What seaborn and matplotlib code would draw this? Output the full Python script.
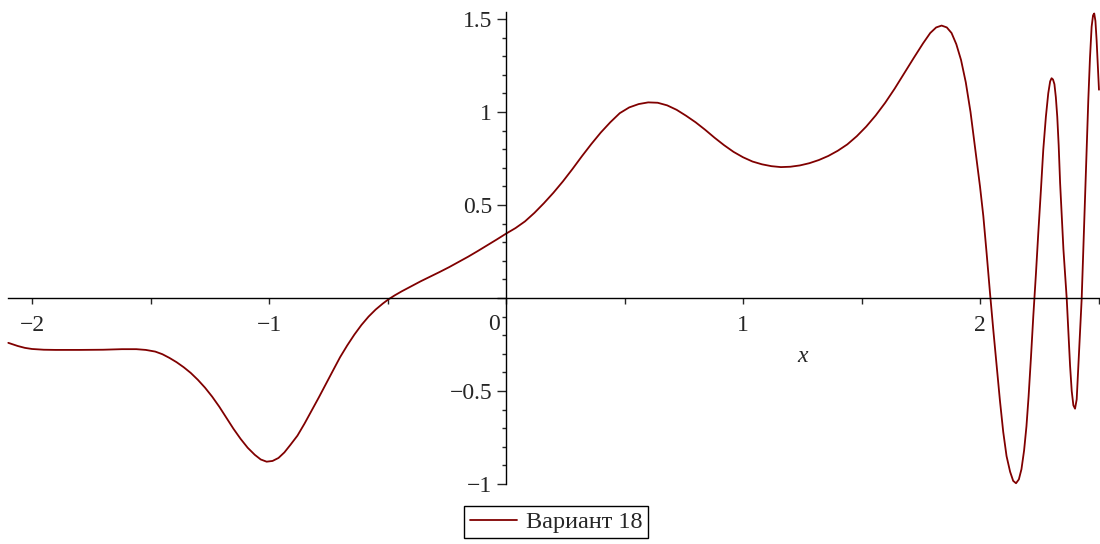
import matplotlib
matplotlib.use("Agg")
import matplotlib.pyplot as plt
import seaborn as sns
import pandas as pd
from matplotlib.ticker import FixedLocator, MultipleLocator

# Sampled curve values (x, y)
x_vals = [-2.100, -2.060, -2.030, -2.000, -1.950, -1.900, -1.800, -1.700, -1.620, -1.560,
          -1.520, -1.480, -1.450, -1.420, -1.390, -1.360, -1.330, -1.300, -1.270, -1.240,
          -1.210, -1.180, -1.150, -1.120, -1.090, -1.060, -1.035, -1.010, -0.985, -0.960,
          -0.935, -0.910, -0.880, -0.850, -0.820, -0.790, -0.760, -0.730, -0.700, -0.670,
          -0.640, -0.610, -0.580, -0.550, -0.520, -0.497, -0.470, -0.440, -0.400, -0.360,
          -0.320, -0.280, -0.240, -0.200, -0.160, -0.120, -0.080, -0.040, 0.000, 0.040,
          0.080, 0.120, 0.160, 0.200, 0.240, 0.280, 0.320, 0.360, 0.400, 0.440,
          0.480, 0.520, 0.560, 0.600, 0.640, 0.680, 0.720, 0.760, 0.800, 0.840,
          0.880, 0.920, 0.960, 1.000, 1.040, 1.080, 1.120, 1.160, 1.200, 1.240,
          1.280, 1.320, 1.360, 1.400, 1.440, 1.480, 1.520, 1.560, 1.600, 1.640,
          1.680, 1.720, 1.760, 1.790, 1.815, 1.838, 1.860, 1.880, 1.900, 1.920,
          1.940, 1.960, 1.980, 2.000, 2.014, 2.028, 2.042, 2.056, 2.070, 2.084,
          2.098, 2.112, 2.127, 2.140, 2.152, 2.164, 2.175, 2.186, 2.196, 2.205,
          2.215, 2.225, 2.236, 2.246, 2.257, 2.267, 2.278, 2.288, 2.296, 2.302,
          2.308, 2.314, 2.320, 2.326, 2.332, 2.338, 2.345, 2.352, 2.359, 2.366,
          2.373, 2.380, 2.387, 2.394, 2.401, 2.408, 2.415, 2.422, 2.429, 2.436,
          2.443, 2.450, 2.457, 2.464, 2.471, 2.477, 2.482, 2.487, 2.492, 2.497,
          2.502]
y_vals = [-0.241, -0.258, -0.268, -0.274, -0.278, -0.279, -0.279, -0.278, -0.275, -0.275,
          -0.279, -0.288, -0.302, -0.322, -0.345, -0.372, -0.403, -0.440, -0.482, -0.530,
          -0.584, -0.643, -0.703, -0.757, -0.805, -0.843, -0.868, -0.880, -0.876, -0.860,
          -0.830, -0.790, -0.740, -0.675, -0.605, -0.535, -0.462, -0.390, -0.318, -0.255,
          -0.197, -0.145, -0.100, -0.062, -0.030, -0.008, 0.014, 0.036, 0.063, 0.090,
          0.115, 0.140, 0.166, 0.194, 0.222, 0.252, 0.283, 0.314, 0.346, 0.376,
          0.412, 0.458, 0.510, 0.566, 0.627, 0.693, 0.762, 0.828, 0.890, 0.945,
          0.994, 1.025, 1.043, 1.052, 1.050, 1.036, 1.012, 0.980, 0.945, 0.905,
          0.862, 0.822, 0.786, 0.757, 0.734, 0.719, 0.709, 0.704, 0.706, 0.713,
          0.725, 0.742, 0.764, 0.792, 0.826, 0.870, 0.922, 0.982, 1.050, 1.126,
          1.208, 1.290, 1.370, 1.425, 1.455, 1.465, 1.455, 1.425, 1.365, 1.280,
          1.160, 1.000, 0.800, 0.600, 0.441, 0.240, 0.030, -0.170, -0.363, -0.550,
          -0.720, -0.850, -0.934, -0.983, -0.996, -0.975, -0.920, -0.820, -0.690, -0.530,
          -0.320, -0.095, 0.130, 0.351, 0.580, 0.798, 0.975, 1.101, 1.165, 1.182,
          1.175, 1.150, 1.080, 0.975, 0.820, 0.619, 0.440, 0.262, 0.125, -0.005,
          -0.180, -0.363, -0.500, -0.577, -0.595, -0.545, -0.363, -0.180, -0.005, 0.260,
          0.530, 0.800, 1.066, 1.290, 1.459, 1.520, 1.530, 1.490, 1.387, 1.250,
          1.120]

series_label = "Вариант 18"
x_ticks = [-2, -1, 0, 1, 2]
x_tick_labels = ["\u22122", "\u22121", "", "1", "2"]
y_ticks = [-1, -0.5, 0, 0.5, 1, 1.5]
y_tick_labels = ["\u22121", "\u22120.5", "", "0.5", "1", "1.5"]

FS = 17

sns.set_style("ticks")
plt.rcParams["font.family"] = ["Liberation Serif", "DejaVu Serif"]
plt.rcParams["font.size"] = FS

W, H = 1100, 544
fig = plt.figure(figsize=(W / 100, H / 100), dpi=100)
ax = fig.add_axes([8.3 / W, 1 - 484 / H, (1098.5 - 8.3) / W, (484 - 12) / H])

df = pd.DataFrame({"x": x_vals, "y": y_vals})
sns.lineplot(data=df, x="x", y="y", ax=ax, color="#800000", linewidth=1.3,
             label=series_label, estimator=None, sort=False)
for ln in ax.lines:
    ln.set_clip_on(False)
    ln.set_solid_joinstyle("round")

ax.set_xlim(-2.1, 2.5)
ax.set_ylim(-1.0, 1.538)

# Axes crossing at the origin
for side in ("top", "right"):
    ax.spines[side].set_visible(False)
ax.spines["left"].set_position(("data", 0))
ax.spines["bottom"].set_position(("data", 0))
for side in ("left", "bottom"):
    ax.spines[side].set_linewidth(1.0)
    ax.spines[side].set_color("black")

ax.xaxis.set_major_locator(FixedLocator(x_ticks))
ax.set_xticklabels(x_tick_labels)
ax.xaxis.set_minor_locator(MultipleLocator(0.5))
ax.yaxis.set_major_locator(FixedLocator(y_ticks))
ax.set_yticklabels(y_tick_labels)
ax.yaxis.set_minor_locator(MultipleLocator(0.1))

ax.tick_params(axis="x", which="major", length=4, width=1, direction="out", pad=8, labelsize=FS)
ax.tick_params(axis="x", which="minor", length=4, width=1, direction="out")
ax.tick_params(axis="y", which="major", length=6.5, width=1, direction="out", pad=3.5, labelsize=FS)
ax.tick_params(axis="y", which="minor", length=3.2, width=1, direction="out")

ax.set_xlabel("")
ax.set_ylabel("")

# Origin label and axis name
ax.annotate("0", xy=(0, 0), xycoords="data", xytext=(-4.5, -11.5),
            textcoords="offset points", ha="right", va="top", fontsize=FS)
ax.text(1.253, -0.312, "x", style="italic", ha="center", va="center", fontsize=FS)

handles, labels = ax.get_legend_handles_labels()
if ax.get_legend() is not None:
    ax.get_legend().remove()
leg = fig.legend(handles, labels, loc="center", bbox_to_anchor=(556 / W, 1 - 522 / H),
                 frameon=True, fancybox=False, shadow=False, edgecolor="black",
                 framealpha=1, fontsize=FS + 0.5, handlelength=1.95, handletextpad=0.35,
                 borderpad=0.22, borderaxespad=0)
leg.get_frame().set_linewidth(1.0)

fig.savefig("out.png", dpi=100)
